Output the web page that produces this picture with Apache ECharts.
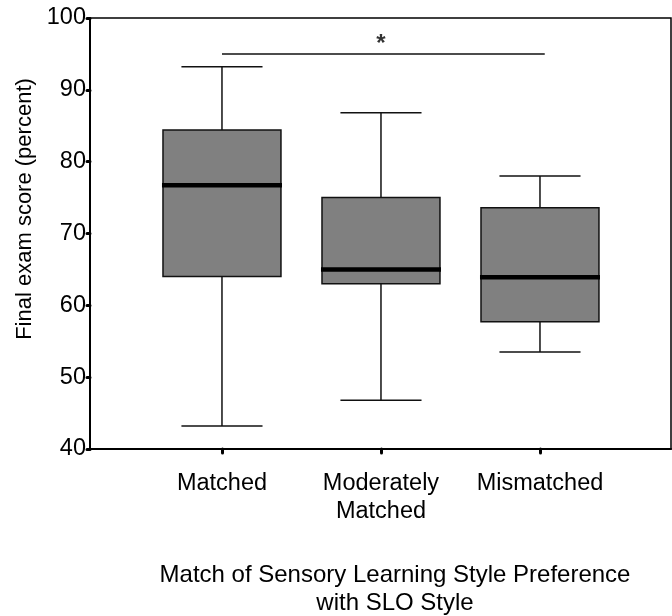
<!DOCTYPE html>
<html>
<head>
<meta charset="utf-8">
<script src="https://cdn.jsdelivr.net/npm/echarts@6/dist/echarts.min.js"></script>
<style>
  html, body { margin: 0; padding: 0; background: #fff; }
  #chart { width: 672px; height: 616px; }
</style>
</head>
<body>
<div id="chart"></div>
<script>
// groups and their box-plot summaries (percent)
const categories = ['Matched', 'Moderately\nMatched', 'Mismatched']
const positions = [1, 2, 3]
const lowWhisker = [43.2, 46.8, 53.5]
const q1 = [64.0, 63.0, 57.7]
const median = [76.7, 65.0, 63.9]
const q3 = [84.4, 75.0, 73.6]
const highWhisker = [93.2, 86.8, 78.0]
const yTicks = [40, 50, 60, 70, 80, 90, 100]

// significance bar between Matched and Mismatched
const sigFrom = 1
const sigTo = 3.03
const sigLevel = 95
const sigMark = '*'

const FONT = '"Liberation Sans", Arial, sans-serif'
const BOX_W = 0.742
const CAP_W = 0.51

const boxData = positions.map((p, i) => [p, lowWhisker[i], q1[i], median[i], q3[i], highWhisker[i]])

function renderBox(params, api) {
  const x = api.value(0)
  const lo = api.coord([x, api.value(1)])
  const b = api.coord([x, api.value(2)])
  const m = api.coord([x, api.value(3)])
  const t = api.coord([x, api.value(4)])
  const hi = api.coord([x, api.value(5)])
  const bw = api.size([BOX_W, 0])[0]
  const cw = api.size([CAP_W, 0])[0]
  const cx = lo[0]
  const line = { stroke: '#111', lineWidth: 1.5 }
  return {
    type: 'group',
    children: [
      { type: 'line', shape: { x1: cx, y1: t[1], x2: cx, y2: hi[1] }, style: line },
      { type: 'line', shape: { x1: cx - cw / 2, y1: hi[1], x2: cx + cw / 2, y2: hi[1] }, style: line },
      { type: 'line', shape: { x1: cx, y1: b[1], x2: cx, y2: lo[1] }, style: line },
      { type: 'line', shape: { x1: cx - cw / 2, y1: lo[1], x2: cx + cw / 2, y2: lo[1] }, style: line },
      { type: 'rect', shape: { x: cx - bw / 2, y: t[1], width: bw, height: b[1] - t[1] },
        style: { fill: '#808080', stroke: '#111', lineWidth: 1.5 } },
      { type: 'line', shape: { x1: cx - bw / 2 - 1, y1: m[1], x2: cx + bw / 2 + 1, y2: m[1] },
        style: { stroke: '#000', lineWidth: 4.5 } }
    ]
  }
}

const chart = echarts.init(document.getElementById('chart'))
chart.setOption({
  backgroundColor: '#fff',
  animation: false,
  grid: {
    left: 90,
    right: 1,
    top: 18,
    bottom: 167,
    show: true,
    borderColor: '#000',
    borderWidth: 1.5
  },
  xAxis: {
    type: 'value',
    min: 0.17,
    max: 3.824,
    splitLine: { show: false },
    axisLine: { show: true, lineStyle: { color: '#000', width: 2 } },
    axisTick: {
      show: true,
      customValues: positions,
      length: 4,
      lineStyle: { color: '#000', width: 3, cap: 'round' }
    },
    axisLabel: {
      customValues: positions,
      formatter: v => categories[Math.round(v) - 1],
      margin: 21,
      color: '#000',
      fontFamily: FONT,
      fontSize: 23.5,
      lineHeight: 28
    }
  },
  yAxis: {
    type: 'value',
    min: 40,
    max: 100,
    interval: 10,
    splitLine: { show: false },
    axisLine: { show: true, lineStyle: { color: '#000', width: 2 } },
    axisTick: {
      show: true,
      customValues: yTicks,
      length: 3,
      lineStyle: { color: '#000', width: 3, cap: 'round' }
    },
    axisLabel: {
      margin: 4,
      color: '#000',
      fontFamily: FONT,
      fontSize: 23.5
    }
  },
  graphic: [
    {
      type: 'text',
      x: 25,
      y: 209,
      rotation: Math.PI / 2,
      style: {
        text: 'Final exam score (percent)',
        font: '22px ' + FONT,
        fill: '#000',
        textAlign: 'center',
        textVerticalAlign: 'middle'
      }
    },
    {
      type: 'text',
      x: 395,
      y: 561,
      style: {
        text: 'Match of Sensory Learning Style Preference\nwith SLO Style',
        font: '24px ' + FONT,
        fill: '#000',
        textAlign: 'center',
        textVerticalAlign: 'top',
        lineHeight: 28
      }
    }
  ],
  series: [
    {
      type: 'custom',
      renderItem: renderBox,
      data: boxData,
      encode: { x: 0, y: [1, 2, 3, 4, 5] },
      z: 3
    },
    {
      type: 'line',
      data: [[sigFrom, sigLevel], [sigTo, sigLevel]],
      symbol: 'none',
      lineStyle: { color: '#111', width: 1.5 },
      z: 2
    },
    {
      type: 'scatter',
      data: [[(sigFrom + 3) / 2, 96.3]],
      symbolSize: 0,
      label: {
        show: true,
        position: 'inside',
        formatter: sigMark,
        color: '#000',
        fontFamily: FONT,
        fontSize: 24,
        fontWeight: 'bold'
      }
    }
  ]
})
</script>
</body>
</html>
